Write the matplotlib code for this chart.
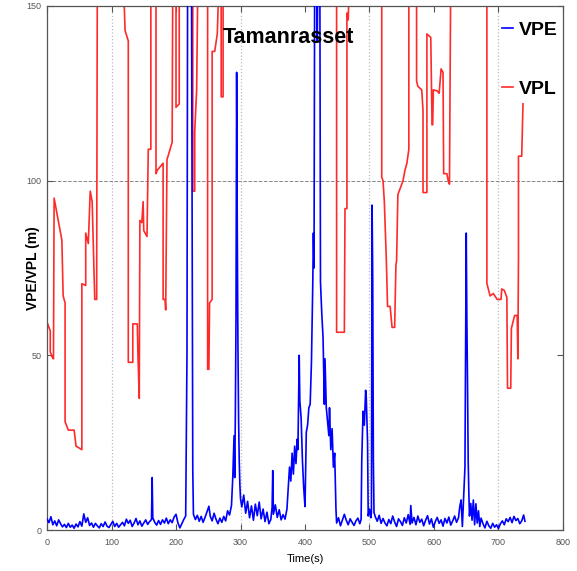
import matplotlib
matplotlib.use('Agg')
import matplotlib.pyplot as plt

NARROW = ['Noto Sans Condensed', 'Liberation Sans Narrow', 'DejaVu Sans Condensed', 'Liberation Sans', 'DejaVu Sans']

# VPL trace (time in s, level in m); values above 150 run off the top of the axes
vpl_t = [1, 5, 5, 8, 10, 11, 23, 25, 28, 28, 33, 42, 45, 54, 54, 60, 60, 64, 67, 70, 74, 77, 77, 78,
         118, 121, 126, 126, 133, 133, 140, 141, 143, 144, 147, 149, 150, 155, 157, 161, 161,
         169, 169, 171, 180, 180, 183, 184, 186, 194, 195,
         200, 200, 205, 205,
         226, 226, 229, 229, 232, 234,
         249, 249, 251, 252, 256, 256, 260, 264, 267,
         270, 270, 273, 273,
         449, 449, 461, 462, 465, 465, 467, 469,
         519, 519, 521, 523, 526, 528, 532, 535, 539, 541, 542, 544, 552, 555, 558, 561, 561,
         573, 573, 575, 581, 583, 583, 589, 589, 595, 597, 598, 599, 605, 608, 611, 614, 615, 620, 622, 624, 626,
         682, 682, 687, 692, 698, 704, 705, 709, 713, 714, 719, 720, 725, 729, 730, 731, 731, 736, 738]
vpl_v = [59, 57, 51, 49.5, 49, 95, 83, 67, 65, 31, 28.6, 28.6, 24, 23, 70.5, 70, 85, 82, 97, 94, 66, 66, 73, 160,
         160, 143, 140, 48, 48, 59, 59, 50, 37.7, 88.6, 88, 94, 85.7, 84, 109, 109, 160,
         160, 102, 103, 105, 66, 66, 63, 106, 111, 160,
         160, 121, 122, 160,
         160, 97, 97, 114, 126, 160,
         160, 46, 46, 65, 66, 137, 137, 142, 160,
         160, 124, 124, 160,
         160, 56.6, 56.6, 92, 92, 148, 146, 160,
         160, 101, 100, 94, 78, 64, 64, 58, 58, 76, 77, 96, 100, 103, 105, 109, 160,
         160, 128.6, 127, 126, 120, 96.6, 96.6, 142, 141, 116, 116, 126, 125.7, 125, 132, 131, 102, 102, 100, 99, 160,
         160, 70.6, 67, 67.7, 66, 66, 69, 68.6, 66.6, 40.6, 40.6, 57.7, 61.4, 61.4, 49, 78, 107, 107, 122]

# VPE trace
vpe_t = [0, 3, 6, 9, 12, 15, 18, 21, 24, 27, 30, 33, 36, 39, 42, 45, 48, 51, 54, 57, 60, 63, 66, 69, 72, 75,
         78, 81, 84, 87, 90, 93, 96, 99, 102, 105, 108, 111, 114, 117, 120, 123, 126, 129, 132, 135, 138,
         141, 144, 147, 150, 153, 156, 159, 162, 163, 164, 167, 170, 173, 176, 179, 182, 185, 188, 191, 194,
         197, 200, 203, 206, 209, 212, 215,
         217, 218, 224, 226, 227,
         230, 233, 236, 239, 242, 245, 248, 251, 253, 256, 259, 262, 265, 268, 271, 274, 277, 280, 283, 286,
         288, 290, 291, 292, 293, 294, 295, 296, 297, 298, 299, 300, 302, 305, 308, 311, 314, 317, 320, 323,
         326, 329, 332, 335, 338, 341, 344, 347, 349, 350, 351, 354, 357, 360, 363, 366, 369, 372, 374, 376,
         378, 380, 382, 384, 386, 388, 389, 391, 392, 394, 396, 398, 400, 402, 404, 406, 408, 410, 412, 413,
         414, 415, 418, 419, 420, 423, 424, 426, 428, 430, 431, 433, 435, 437, 438, 440, 442, 444, 446, 448,
         449, 452, 455, 458, 461, 464, 467, 470, 473, 476, 479, 482, 485, 487, 488, 490, 492, 494, 495, 497,
         498, 500, 502, 503, 504, 505, 506, 507, 509, 512, 515, 518, 521, 524, 527, 530, 533, 536, 539, 542,
         545, 548, 551, 554, 557, 560, 563, 564, 566, 569, 572, 575, 578, 581, 584, 587, 590, 593, 596, 599,
         602, 605, 608, 611, 614, 617, 620, 623, 626, 629, 632, 635, 638, 640, 642, 644, 646, 648, 649, 650,
         651, 652, 653, 654, 655, 657, 659, 661, 663, 665, 667, 669, 671, 673, 676, 679, 682, 685, 688, 691,
         694, 697, 700, 703, 706, 709, 712, 715, 718, 721, 724, 727, 730, 733, 736, 739, 741]
vpe_v = [3.2, 2.1, 3.8, 1.5, 2.6, 1.2, 2.9, 1.8, 0.9, 1.6, 0.7, 1.9, 0.8, 1.4, 0.5, 1.7, 0.9, 2.4, 1.1, 4.6,
         2.2, 3.5, 1.3, 2.0, 0.8, 1.9, 1.2, 0.6, 1.8, 1.0, 2.3, 1.1, 0.7, 1.6, 2.5, 1.0, 1.9, 0.8, 1.5, 2.2,
         1.2, 3.1, 1.9, 2.8, 1.0, 2.0, 3.3, 1.5, 2.6, 1.1, 2.0, 2.9, 1.6, 2.4, 3.0, 15, 3.5, 2.2, 1.4, 2.7,
         1.6, 2.9, 2.0, 3.4, 1.8, 2.9, 2.1, 3.7, 4.5, 2.0, 0.6, 1.8, 3.0, 4.0,
         50, 160, 160, 17, 4.5,
         3.0, 4.2, 2.5, 3.9, 2.2, 3.6, 5.2, 6.8, 4.0, 2.6, 4.8, 3.1, 1.8, 3.4, 2.2, 3.9, 2.6, 5.5, 4.3, 7.0,
         15, 27, 15, 33, 60, 131, 85, 53, 32, 20, 13, 9, 6.6, 10, 4.8, 8.2, 3.5, 6.9, 2.8, 7.4,
         4.1, 8.0, 3.2, 6.0, 2.4, 5.1, 1.8, 3.0, 6.5, 17, 4.5, 7.2, 3.6, 5.8, 2.9, 4.4, 3.1, 6.0, 12, 18,
         14, 22, 16, 24, 19, 26, 23, 50, 37, 32, 20, 12, 6.7, 28, 30, 35, 36, 48, 70, 85,
         75, 160, 160, 140, 160, 160, 71, 62, 55, 36, 49, 35, 31, 27, 35, 23, 29, 18, 22, 6,
         2, 3.5, 1.2, 2.9, 4.5, 2.8, 1.5, 3.2, 2.2, 1.3, 2.6, 3.4, 1.8, 3.0, 20, 34, 30, 40, 38, 25,
         4, 6, 3.5, 5, 93, 72, 20, 5, 3.8, 2.5, 4.2, 1.9, 3.3, 2.0, 1.2, 3.0, 1.8, 4.0, 2.3, 1.0,
         3.2, 2.4, 1.3, 3.5, 2.0, 4.4, 1.6, 7.0, 2.0, 3.6, 1.5, 4.0, 2.2, 3.1, 1.2, 2.8, 4.1, 1.7, 3.2, 0.8,
         2.4, 3.6, 1.9, 2.9, 1.1, 3.3, 2.0, 3.7, 1.4, 2.6, 4.0, 2.2, 3.5, 6.7, 8.6, 1.0, 9.5, 18, 50, 85,
         60, 42, 20, 11, 4, 7.6, 2.8, 8.6, 1.5, 7.5, 2.0, 5.5, 1.0, 3.4, 1.8, 0.6, 2.5, 1.2, 0.5, 1.9,
         0.8, 1.5, 0.4, 1.8, 2.6, 1.5, 3.2, 2.4, 3.6, 2.1, 3.9, 2.7, 3.3, 1.8, 2.6, 4.3, 2.5]

xticks = [0, 100, 200, 300, 400, 500, 600, 700, 800]
yticks = [0, 50, 100, 150]

fig = plt.figure(figsize=(5.77, 5.71), dpi=100)
ax = fig.add_axes([0.0815, 0.0718, 0.8942, 0.9177])

# sparse grid: dotted verticals on odd hundreds, one dashed horizontal at 100 m
for xv in [100, 300, 500, 700]:
    ax.axvline(xv, color='#bbbbbb', ls=':', lw=0.9, zorder=0)
ax.axhline(100, color='#888888', ls='--', lw=0.7, zorder=0)

ax.plot(vpe_t, vpe_v, color='#0000ff', lw=1.2, label='VPE', zorder=3)
ax.plot(vpl_t, vpl_v, color='#ff2a2a', lw=1.2, label='VPL', zorder=2)

ax.set_xlim(0, 800)
ax.set_ylim(0, 150)
ax.set_xticks(xticks)
ax.set_yticks(yticks)
ax.tick_params(direction='in', length=4, width=0.8, colors='#555555', labelsize=6.5,
               top=True, right=True)
ax.tick_params(axis='x', pad=6)
ax.tick_params(axis='y', pad=4)
for lab in ax.get_xticklabels() + ax.get_yticklabels():
    lab.set_family(NARROW)
    lab.set_stretch('condensed')
for sp in ax.spines.values():
    sp.set_color('#555555')
    sp.set_linewidth(0.9)

ax.set_xlabel('Time(s)', family=NARROW, stretch='condensed', fontsize=8)
ax.xaxis.set_label_coords(0.5, -0.045)
ax.set_ylabel('VPE/VPL (m)', family=NARROW, stretch='condensed', fontsize=10,
              fontweight='bold')
ax.yaxis.set_label_coords(-0.014, 0.5)

ax.text(0.341, 0.94, 'Tamanrasset', transform=ax.transAxes, family=NARROW, stretch='condensed',
        fontsize=15.5, fontweight='bold', va='center', ha='left', zorder=5)

leg = ax.legend(loc='upper left', bbox_to_anchor=(0.866, 0.985), frameon=False,
                handlelength=0.6, handletextpad=0.3, labelspacing=2.1, borderaxespad=0,
                prop={'family': NARROW, 'stretch': 'condensed', 'weight': 'bold', 'size': 14})

fig.savefig('out.png', dpi=100)
